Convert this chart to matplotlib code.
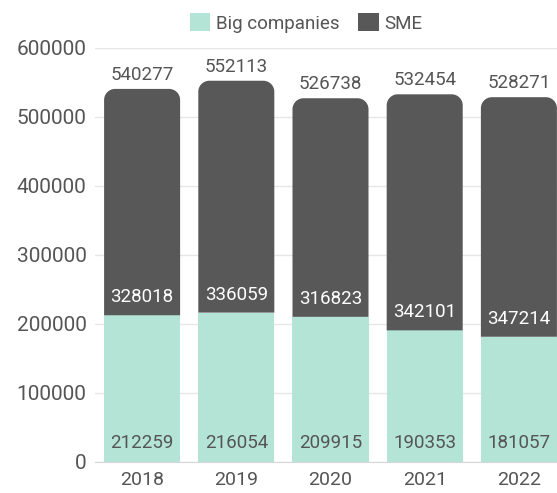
import matplotlib
matplotlib.use("Agg")
import matplotlib.pyplot as plt
from matplotlib.path import Path
from matplotlib.patches import PathPatch, Patch
import numpy as np

years = ["2018", "2019", "2020", "2021", "2022"]
big_companies = [212259, 216054, 209915, 190353, 181057]
sme = [328018, 336059, 316823, 342101, 347214]
totals = [540277, 552113, 526738, 532454, 528271]

MINT = "#b4e4d6"
DARK = "#585858"
TEXT = "#555555"

plt.rcParams["font.family"] = ["Roboto", "DejaVu Sans"]


def round_top(ax, rect, r_px, color):
    # replace a bar rectangle with one that has rounded top corners
    x0, y0 = rect.get_x(), rect.get_y()
    w, h = rect.get_width(), rect.get_height()
    inv = ax.transData.inverted()
    p0 = inv.transform((0, 0))
    p1 = inv.transform((r_px, r_px))
    rx, ry = p1 - p0
    k = 0.5523
    x1, y1 = x0 + w, y0 + h
    verts = [(x0, y0), (x0, y1 - ry), (x0, y1 - ry + k * ry), (x0 + rx - k * rx, y1), (x0 + rx, y1),
             (x1 - rx, y1), (x1 - rx + k * rx, y1), (x1, y1 - ry + k * ry), (x1, y1 - ry),
             (x1, y0), (x0, y0)]
    codes = [Path.MOVETO, Path.LINETO, Path.CURVE4, Path.CURVE4, Path.CURVE4,
             Path.LINETO, Path.CURVE4, Path.CURVE4, Path.CURVE4, Path.LINETO, Path.CLOSEPOLY]
    rect.set_visible(False)
    ax.add_patch(PathPatch(Path(verts, codes), facecolor=color, edgecolor="none", zorder=2))


fig = plt.figure(figsize=(5.57, 4.93), dpi=100)
ax = fig.add_axes([95 / 557, 31.3 / 493, 471 / 557, 414 / 493])

x = np.arange(len(years))
width = 0.807

bars_big = ax.bar(x, big_companies, width, color=MINT, zorder=2)
bars_sme = ax.bar(x, sme, width, bottom=big_companies, color=DARK, zorder=2)

ax.set_xlim(-0.5, 4.5)
ax.set_ylim(0, 600000)
ax.set_yticks(np.arange(0, 600001, 100000))
ax.set_xticks(x)
ax.set_xticklabels(years)

for rect in bars_sme:
    round_top(ax, rect, 11, DARK)

for i in range(len(years)):
    ax.annotate(str(big_companies[i]), (x[i], 0), xytext=(0, 19), textcoords="offset pixels",
                ha="center", va="center", fontsize=13.5, color=TEXT, zorder=3)
    ax.annotate(str(sme[i]), (x[i], big_companies[i]), xytext=(0, 18), textcoords="offset pixels",
                ha="center", va="center", fontsize=13.5, color="white", zorder=3)
    ax.annotate(str(totals[i]), (x[i], totals[i]), xytext=(0, 14), textcoords="offset pixels",
                ha="center", va="center", fontsize=13.5, color=TEXT, zorder=3)

ax.grid(axis="y", color="#e6e6e6", linewidth=1, zorder=0)
ax.set_axisbelow(True)
for side in ["top", "right", "left"]:
    ax.spines[side].set_visible(False)
ax.spines["bottom"].set_color("#d6d6d6")
ax.tick_params(axis="y", length=0, pad=6, labelsize=15, labelcolor=TEXT)
ax.tick_params(axis="x", length=0, pad=7, labelsize=14, labelcolor=TEXT)

handles = [Patch(facecolor=MINT, label="Big companies"), Patch(facecolor=DARK, label="SME")]
fig.legend(handles=handles, loc="center", bbox_to_anchor=(306 / 557, 1 - 23 / 493),
           ncol=2, frameon=False, fontsize=13.5, handlelength=1.1, handleheight=1.1,
           handletextpad=0.3, columnspacing=1.0, borderpad=0, labelcolor=TEXT)

fig.savefig("out.png", dpi=100)
